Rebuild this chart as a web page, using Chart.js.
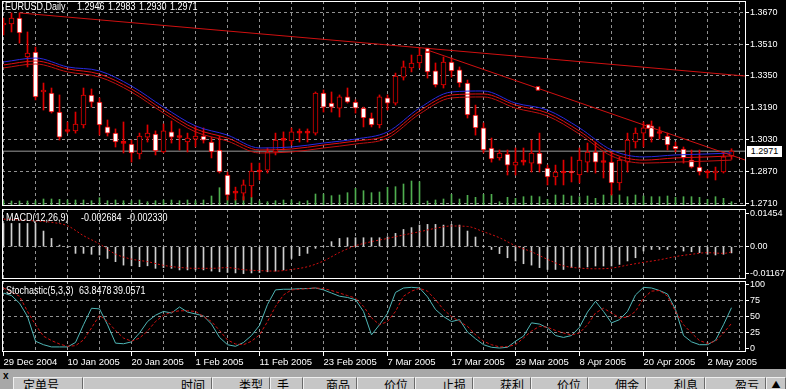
<!DOCTYPE html>
<html>
<head>
<meta charset="utf-8">
<title>EURUSD Daily</title>
<script src="https://cdn.jsdelivr.net/npm/chart.js@4.4.1/dist/chart.umd.min.js"></script>
<style>
  body { margin: 0; background: #000; width: 786px; height: 389px; overflow: hidden; position: relative; font-family: "Liberation Sans", Arial, sans-serif; }
  .pane { position: absolute; left: 0; width: 786px; }
  .txt { position: absolute; color: #fff; font-size: 10px; line-height: 12px; white-space: pre; transform: scaleX(0.9); transform-origin: 0 0; }
  #priceBox { position: absolute; left: 747px; top: 146px; width: 35px; height: 11px; background: #fff; color: #000; font-size: 9px; line-height: 11px; text-align: center; }
  #terminal { position: absolute; left: 0; top: 369px; width: 786px; height: 20px; background: #a8a8a8; overflow: hidden; }
  .col { position: absolute; top: 8px; height: 14px; background: #c6c6c6; border-left: 1px solid #efefef; border-right: 1px solid #6a6a6a; border-top: 1px solid #efefef; box-sizing: border-box; font-family: "Noto Sans CJK SC", sans-serif; font-size: 12px; line-height: 14px; color: #000; padding: 0 6px; text-align: right; }
</style>
</head>
<body>

<div class="pane" style="top:0;height:210px"><canvas id="priceChart"></canvas></div>
<div class="pane" style="top:207px;height:74px"><canvas id="macdChart"></canvas></div>
<div class="pane" style="top:279px;height:93px"><canvas id="stochChart"></canvas></div>

<div class="txt" style="left:5px;top:1px">EURUSD,Daily</div>
<div class="txt" style="left:77px;top:1px">1.2946</div>
<div class="txt" style="left:108px;top:1px">1.2983</div>
<div class="txt" style="left:139px;top:1px">1.2930</div>
<div class="txt" style="left:170px;top:1px">1.2971</div>
<div id="priceBox">1.2971</div>

<div class="txt" style="left:6px;top:212px">MACD(12,26,9)</div>
<div class="txt" style="left:81px;top:212px">-0.002684</div>
<div class="txt" style="left:127px;top:212px">-0.002330</div>

<div class="txt" style="left:6px;top:285px">Stochastic(5,3,3)</div>
<div class="txt" style="left:79px;top:285px">63.8478</div>
<div class="txt" style="left:113px;top:285px">39.0571</div>

<div id="terminal">
  <div style="position:absolute;left:3px;top:1px;font-size:10px;font-weight:bold;color:#000">x</div>
  <div class="col" style="left:13px;width:70px;text-align:left;padding-left:9px">定单号</div>
  <div class="col" style="left:83px;width:129px">时间</div>
  <div class="col" style="left:212px;width:58px">类型</div>
  <div class="col" style="left:270px;width:33px;text-align:left">手</div>
  <div class="col" style="left:303px;width:54px">商品</div>
  <div class="col" style="left:357px;width:58px">价位</div>
  <div class="col" style="left:415px;width:58px">止损</div>
  <div class="col" style="left:473px;width:58px">获利</div>
  <div class="col" style="left:531px;width:57px">价位</div>
  <div class="col" style="left:588px;width:58px">佣金</div>
  <div class="col" style="left:646px;width:59px">利息</div>
  <div class="col" style="left:705px;width:61px">盈亏</div>
  <div class="col" style="left:766px;width:20px;text-align:center;padding:0;font-size:9px">▲</div>
</div>

<script>
// ---- data (bar index 0 = 29 Dec 2004) ----

var dateLabels = ["29 Dec 2004", "10 Jan 2005", "20 Jan 2005", "1 Feb 2005", "11 Feb 2005", "23 Feb 2005",
  "7 Mar 2005", "17 Mar 2005", "29 Mar 2005", "8 Apr 2005", "20 Apr 2005", "2 May 2005"];

var openP = [1.3606,1.3611,1.3641,1.3445,1.3470,1.3269,1.3264,1.3168,1.3073,1.3073,
  1.3103,1.3254,1.3218,1.3093,1.3062,1.3012,1.3007,1.2957,1.3042,1.3057,
  1.2967,1.3068,1.3042,1.3017,1.3032,1.3047,1.3017,1.2977,1.2851,1.2762,
  1.2760,1.2796,1.2866,1.2876,1.2967,1.3027,1.3022,1.3062,1.3064,1.3062,
  1.3264,1.3213,1.3188,1.3244,1.3218,1.3188,1.3138,1.3103,1.3239,1.3213,
  1.3344,1.3390,1.3415,1.3470,1.3375,1.3304,1.3420,1.3380,1.3314,1.3153,
  1.3088,1.2987,1.2937,1.2957,1.2901,1.2916,1.2911,1.2962,1.2886,1.2841,
  1.2861,1.2871,1.2851,1.2916,1.2967,1.2916,1.2916,1.2811,1.2916,1.3017,
  1.3062,1.3098,1.3062,1.3047,1.2997,1.2982,1.2926,1.2891,1.2863,1.2861,
  1.2866,1.2946];
var highP = [1.3641,1.3667,1.3667,1.3571,1.3495,1.3314,1.3289,1.3254,1.3118,1.3168,
  1.3289,1.3284,1.3239,1.3128,1.3083,1.3118,1.3027,1.3062,1.3103,1.3073,
  1.3108,1.3123,1.3083,1.3062,1.3098,1.3088,1.3042,1.3047,1.2866,1.2790,
  1.2826,1.2911,1.2911,1.2987,1.3062,1.3068,1.3088,1.3083,1.3083,1.3269,
  1.3279,1.3269,1.3254,1.3289,1.3229,1.3193,1.3163,1.3254,1.3254,1.3364,
  1.3425,1.3455,1.3490,1.3485,1.3415,1.3445,1.3440,1.3395,1.3329,1.3203,
  1.3113,1.3037,1.2977,1.2977,1.2987,1.2987,1.3027,1.3062,1.2901,1.2901,
  1.2926,1.2942,1.2987,1.3012,1.3017,1.2967,1.2967,1.2942,1.3062,1.3088,
  1.3118,1.3123,1.3093,1.3062,1.3017,1.2992,1.2977,1.2977,1.2876,1.2891,
  1.2967,1.2983];
var lowP = [1.3556,1.3571,1.3515,1.3395,1.3229,1.3178,1.3163,1.3027,1.3062,1.3062,
  1.3088,1.3193,1.3052,1.3047,1.2992,1.2962,1.2916,1.2932,1.3017,1.2952,
  1.2962,1.3012,1.2977,1.2967,1.2992,1.3012,1.2937,1.2861,1.2725,1.2725,
  1.2725,1.2740,1.2826,1.2861,1.2952,1.2977,1.3002,1.3017,1.3017,1.3052,
  1.3168,1.3168,1.3143,1.3213,1.3163,1.3093,1.3093,1.3088,1.3178,1.3203,
  1.3329,1.3370,1.3390,1.3339,1.3294,1.3289,1.3344,1.3294,1.3138,1.3052,
  1.2962,1.2916,1.2926,1.2851,1.2851,1.2901,1.2866,1.2866,1.2801,1.2801,
  1.2801,1.2816,1.2811,1.2866,1.2861,1.2836,1.2750,1.2775,1.2866,1.2987,
  1.2992,1.3017,1.3032,1.2977,1.2967,1.2911,1.2886,1.2851,1.2836,1.2826,
  1.2861,1.2930];
var closeP = [1.3611,1.3641,1.3566,1.3465,1.3244,1.3279,1.3168,1.3042,1.3070,1.3108,
  1.3254,1.3218,1.3103,1.3062,1.3017,1.3010,1.2962,1.3047,1.3062,1.2972,
  1.3073,1.3042,1.3040,1.3037,1.3047,1.3027,1.2967,1.2866,1.2750,1.2760,
  1.2801,1.2871,1.2868,1.2967,1.3027,1.3025,1.3068,1.3064,1.3062,1.3264,
  1.3193,1.3193,1.3244,1.3218,1.3188,1.3138,1.3103,1.3244,1.3213,1.3349,
  1.3395,1.3415,1.3455,1.3370,1.3304,1.3420,1.3375,1.3314,1.3153,1.3088,
  1.2977,1.2932,1.2962,1.2901,1.2916,1.2918,1.2962,1.2906,1.2841,1.2866,
  1.2863,1.2861,1.2926,1.2967,1.2916,1.2914,1.2811,1.2926,1.3027,1.3062,
  1.3088,1.3042,1.3060,1.3002,1.2982,1.2937,1.2891,1.2866,1.2861,1.2871,
  1.2942,1.2971];

// tick volume
var volume = [1060,1000,1000,1000,1060,1400,1400,1340,1200,1200,
  1200,1060,1660,1060,1200,1060,1060,1200,860,1060,
  1200,1200,1060,1200,1060,1200,2000,3660,1860,1340,
  1860,1740,1000,860,1060,1200,1200,860,1060,2400,
  2400,2060,2200,2660,3540,3060,2660,2800,3740,3860,
  4400,5000,4860,1000,1200,1400,2340,1400,2140,1740,
  2340,2340,860,1740,1540,1860,2000,1860,1340,2200,
  2200,2000,1860,2000,1540,2200,2340,2200,1860,2200,
  2000,1860,1860,2000,1740,1860,1860,1740,1340,1860,
  1540,860];

// moving averages, read every 4 bars
var maIdx = [0,4,8,12,16,20,24,28,32,36,40,44,48,52,56,60,64,68,72,76,80,84,88,91];
var maBlue = [1.3420,1.3440,1.3395,1.3375,1.3299,1.3193,1.3098,1.3052,1.2987,1.2992,1.3012,1.3032,
  1.3068,1.3188,1.3269,1.3274,1.3213,1.3178,1.3088,1.2977,1.2942,1.2952,1.2957,1.2962];
var maRedA = [1.3405,1.3425,1.3385,1.3359,1.3284,1.3178,1.3083,1.3037,1.2977,1.2982,1.3002,1.3022,
  1.3052,1.3173,1.3254,1.3259,1.3203,1.3163,1.3072,1.2962,1.2926,1.2937,1.2942,1.2947];
var maRedB = [1.3390,1.3410,1.3370,1.3344,1.3269,1.3163,1.3068,1.3022,1.2962,1.2967,1.2987,1.3007,
  1.3037,1.3158,1.3239,1.3244,1.3188,1.3148,1.3057,1.2947,1.2911,1.2916,1.2921,1.2926];

// trend lines (bar index, price)
var trend1X = [2, 92.8];
var trend1Y = [1.3667, 1.3349];
var trend2X = [53, 92.8];
var trend2Y = [1.3480, 1.2925];
var anchorX = [53, 66.8, 80.6];
var anchorY = [1.3480, 1.3287, 1.3095];
var lastPrice = 1.2971;

var priceTicks = [1.3670, 1.3510, 1.3350, 1.3190, 1.3030, 1.2870, 1.2710];

// MACD(12,26,9)
var macdHist = [0.0101,0.0101,0.0101,0.0101,0.0101,0.0068,0.0036,0.0007,-0.0004,-0.0029,
  -0.0029,-0.0033,-0.0036,-0.0051,-0.0065,-0.0080,-0.0083,-0.0087,-0.0083,-0.0094,
  -0.0091,-0.0094,-0.0101,-0.0101,-0.0101,-0.0101,-0.0106,-0.0109,-0.0112,-0.0114,
  -0.0117,-0.0114,-0.0112,-0.0109,-0.0106,-0.0101,-0.0051,-0.0039,-0.0029,-0.0007,
  0.0002,0.0022,0.0036,0.0039,0.0039,0.0039,0.0039,0.0039,0.0043,0.0058,
  0.0075,0.0083,0.0094,0.0097,0.0097,0.0094,0.0097,0.0094,0.0068,0.0042,
  0.0003,-0.0012,-0.0030,-0.0048,-0.0062,-0.0074,-0.0080,-0.0091,-0.0099,-0.0099,
  -0.0099,-0.0091,-0.0091,-0.0088,-0.0084,-0.0084,-0.0084,-0.0077,-0.0062,-0.0048,
  -0.0019,-0.0012,-0.0012,-0.0012,-0.0003,-0.0019,-0.0022,-0.0026,-0.0033,-0.0036,
  -0.0033,-0.0027];
var sigIdx = [0,2,4,6,8,10,12,14,16,18,20,22,24,26,28,30,32,34,36,38,40,42,44,46,
  48,50,52,54,56,58,60,62,64,66,68,70,72,74,76,78,80,82,84,86,88,90,91];
var macdSig = [0.0120,0.0116,0.0112,0.0106,0.0091,0.0048,0.0012,-0.0032,-0.0054,-0.0065,-0.0081,-0.0090,
  -0.0094,-0.0094,-0.0091,-0.0100,-0.0104,-0.0106,-0.0099,-0.0087,-0.0062,-0.0025,0.0004,0.0022,
  0.0036,0.0051,0.0065,0.0080,0.0090,0.0088,0.0065,0.0039,0.0004,-0.0022,-0.0055,-0.0083,
  -0.0093,-0.0096,-0.0093,-0.0080,-0.0068,-0.0057,-0.0043,-0.0033,-0.0026,-0.0029,-0.0023];
var macdTicks = [0.01454, 0, -0.01167];

// Stochastic(5,3,3)
var stochK = [87,83,71,50,11,5.5,2,2,2,9,
  37,63,62,37,8,7,10,24,42,52,
  58,55.5,65,57,54,51,38,17,5.5,3,
  9,20,36,69,92,93,93,94,94,95,
  92,87,82,80,76.5,58,21,37,55,88,
  95,96,95,81,61,50,42,45,25.5,15,
  5.5,1.4,0.3,1.4,11,19,40,38,32,20,
  17,20,33,57,74,58,40,45,58,84,
  96,95,91,85.5,61,20,10,5.5,5.5,12.5,
  37,63.85];
var stochD = [95,88.6,82,58,37,19,12,6.6,3,4,
  13,32,52,42,28,16,11,16,27,42,
  52,57,59,59,58,50,42,28,13,6.6,
  5.5,11,21,42,66,84,92,93,94,95,
  94,91,87,83,79,66,48,37,42,58,
  82,90,94.5,90,76.5,61,50,42,34.5,21,
  11,5.5,2,2.5,5.5,16,27,34.5,33,28,
  24,21,24,37,55.5,63,55.5,48,49,58,
  79,90,91,82,58,37,24,12,7.5,11,
  24,39.06];
var stochTicks = [100, 75, 50, 25, 0];

// ---- helpers ----

Chart.defaults.font.family = '"Liberation Sans", Arial, sans-serif';
Chart.defaults.font.size = 9;
Chart.defaults.color = '#fff';

var xMin = -0.1875, xMax = 92.8125;
var gridGray = 'rgba(170,170,170,0.85)';
var clear = 'rgba(0,0,0,0)';

var gridIdx = [];
for (var g = 0; g <= 92; g += 4) gridIdx.push(g);

function pts(xs, ys) {
  return xs.map(function (x, k) { return { x: x, y: ys[k] }; });
}

// white box round each panel
var framePlugin = {
  id: 'frame',
  afterDraw: function (chart) {
    var a = chart.chartArea, c = chart.ctx;
    c.save();
    c.strokeStyle = '#fff';
    c.lineWidth = 1;
    c.strokeRect(Math.round(a.left) + 0.5, Math.round(a.top) + 0.5,
      Math.round(a.right - a.left) - 1, Math.round(a.bottom - a.top) - 1);
    c.restore();
  }
};

function xAxis(showLabels) {
  return {
    type: 'linear', min: xMin, max: xMax, offset: false,
    afterBuildTicks: function (s) { s.ticks = gridIdx.map(function (v) { return { value: v }; }); },
    afterFit: function (s) { s.height = showLabels ? 20 : 0; s.paddingLeft = 0; s.paddingRight = 0; },
    grid: {
      offset: false, color: gridGray, drawTicks: showLabels, tickLength: 4,
      tickColor: function (c) { return c.tick && c.tick.value % 8 === 0 ? '#fff' : clear; }
    },
    border: { display: false, dash: [3, 3] },
    ticks: {
      display: showLabels, autoSkip: false, maxRotation: 0, align: 'start', padding: 1, color: '#fff',
      font: { size: 9.5 },
      callback: function (v) { return v % 8 === 0 ? dateLabels[v / 8] : ''; }
    }
  };
}

function yAxis(min, max, tickVals, fmt, gridOn) {
  return {
    position: 'right', min: min, max: max,
    afterBuildTicks: function (s) { s.ticks = tickVals.map(function (v) { return { value: v }; }); },
    afterFit: function (s) { s.width = 40; s.paddingTop = 0; s.paddingBottom = 0; },
    grid: {
      color: function (c) { return c.tick && gridOn(c.tick.value) ? gridGray : clear; },
      tickColor: '#fff', tickLength: 3, drawTicks: true
    },
    border: { display: false, dash: [3, 3] },
    ticks: { color: '#fff', padding: 1, autoSkip: false, callback: fmt }
  };
}

function baseOptions(pad) {
  return {
    animation: false, responsive: true, maintainAspectRatio: false,
    layout: { padding: pad, autoPadding: false },
    plugins: { legend: { display: false }, tooltip: { enabled: false } }
  };
}

// ---- price panel ----

var idx = closeP.map(function (v, i) { return i; });
var bodyFill = idx.map(function (i) {
  if (Math.abs(closeP[i] - openP[i]) < 0.0004) return '#e00000';
  return closeP[i] < openP[i] ? '#ffffff' : '#000000';
});

var priceOpts = baseOptions({ left: 2, top: 1, right: 0, bottom: 4 });
priceOpts.scales = {
  x: xAxis(false),
  y: yAxis(1.2695, 1.3727, priceTicks, function (v) { return v.toFixed(4); }, function () { return true; }),
  yVol: { display: false, min: 0, max: 41000 }
};

new Chart(document.getElementById('priceChart'), {
  type: 'bar',
  data: {
    datasets: [
      { type: 'line', data: pts([xMin, xMax], [lastPrice, lastPrice]), borderColor: '#9a9a9a', borderWidth: 1, pointRadius: 0, order: 7 },
      { data: pts(idx, volume), yAxisID: 'yVol', backgroundColor: '#4fae4f', barThickness: 1, grouped: false, order: 6 },
      { data: idx.map(function (i) { return { x: i, y: [lowP[i], highP[i]] }; }), backgroundColor: '#e00000', barThickness: 1, grouped: false, order: 5 },
      { data: idx.map(function (i) { return { x: i, y: [openP[i], closeP[i]] }; }), backgroundColor: bodyFill, borderColor: '#e00000',
        borderWidth: 1, borderSkipped: false, barThickness: 5, minBarLength: 2, grouped: false, order: 4 },
      { type: 'line', data: pts(maIdx, maBlue), borderColor: '#2a2ae0', borderWidth: 1, pointRadius: 0, cubicInterpolationMode: 'monotone', order: 3 },
      { type: 'line', data: pts(maIdx, maRedA), borderColor: '#e01010', borderWidth: 1, pointRadius: 0, cubicInterpolationMode: 'monotone', order: 3 },
      { type: 'line', data: pts(maIdx, maRedB), borderColor: '#c01010', borderWidth: 1, pointRadius: 0, cubicInterpolationMode: 'monotone', order: 3 },
      { type: 'line', data: pts(trend1X, trend1Y), borderColor: '#d01010', borderWidth: 1, pointRadius: 0, order: 2 },
      { type: 'line', data: pts(trend2X, trend2Y), borderColor: '#d01010', borderWidth: 1, pointRadius: 0, order: 2 },
      { type: 'line', data: pts(anchorX, anchorY), showLine: false, pointStyle: 'rect', pointRadius: 2.5,
        pointBackgroundColor: '#fff', pointBorderColor: '#e00000', pointBorderWidth: 1, order: 1 }
    ]
  },
  options: priceOpts,
  plugins: [framePlugin]
});

// ---- MACD panel ----

var macdOpts = baseOptions({ left: 2, top: 2, right: 0, bottom: 2 });
macdOpts.scales = {
  x: xAxis(false),
  y: yAxis(-0.01404, 0.01639, macdTicks,
    function (v) { return v === 0 ? '0.00' : v.toFixed(5); },
    function (v) { return v === 0; })
};

new Chart(document.getElementById('macdChart'), {
  type: 'bar',
  data: {
    datasets: [
      { data: pts(idx, macdHist), backgroundColor: '#d0d0d0', barThickness: 1, grouped: false, order: 2 },
      { type: 'line', data: pts(sigIdx, macdSig), borderColor: '#d01010', borderWidth: 1, borderDash: [2, 2],
        pointRadius: 0, cubicInterpolationMode: 'monotone', order: 1 }
    ]
  },
  options: macdOpts,
  plugins: [framePlugin]
});

// ---- Stochastic panel ----

var stochOpts = baseOptions({ left: 2, top: 2, right: 0, bottom: 0 });
stochOpts.scales = {
  x: xAxis(true),
  y: yAxis(-6, 106, stochTicks, function (v) { return String(v); },
    function (v) { return v > 0 && v < 100; })
};

new Chart(document.getElementById('stochChart'), {
  type: 'line',
  data: {
    datasets: [
      { data: pts(idx, stochK), borderColor: '#4fb6b6', borderWidth: 1, pointRadius: 0, order: 2 },
      { data: pts(idx, stochD), borderColor: '#d01010', borderWidth: 1, borderDash: [3, 2], pointRadius: 0, order: 1 }
    ]
  },
  options: stochOpts,
  plugins: [framePlugin]
});
</script>
</body>
</html>
